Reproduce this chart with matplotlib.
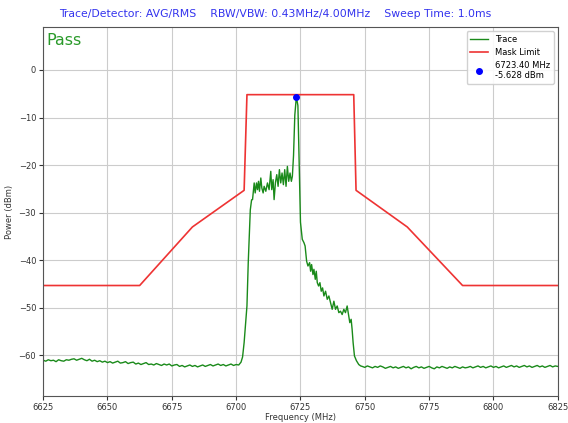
import numpy as np
import matplotlib.pyplot as plt

# ── data ─────────────────────────────────────────────────────────────────────
# noise floor below the channel (1 MHz steps)
floor_lo_freq = np.arange(6625, 6702)
floor_lo_dbm = [
    -61.0, -61.2, -60.9, -61.1, -61.0, -61.3, -60.9, -61.1, -61.2, -60.9, -61.0, -60.8,
    -60.7, -61.0, -60.8, -60.6, -60.9, -61.1, -60.8, -61.2, -61.0, -61.3, -61.1, -61.4,
    -61.2, -61.5, -61.3, -61.6, -61.4, -61.2, -61.6, -61.5, -61.3, -61.7, -61.5, -61.4,
    -61.8, -61.6, -61.9, -61.7, -61.5, -61.9, -61.8, -62.0, -61.7, -61.9, -62.1, -61.8,
    -62.0, -61.8, -62.2, -62.0, -61.9, -62.3, -62.1, -62.4, -62.2, -62.0, -62.3, -62.1,
    -62.4, -62.2, -62.0, -62.3, -62.1, -61.9, -62.2, -62.0, -61.8, -62.1, -61.9, -62.2,
    -62.0, -61.8, -62.1, -61.9, -62.0,
]

# in-band part of the trace
band_freq = [
    6701.9, 6702.5, 6703.1, 6703.7, 6704.2, 6704.7, 6705.1, 6705.5, 6706.0,
    6706.37, 6707.01, 6707.40, 6707.91, 6708.30, 6708.69, 6709.07, 6709.59, 6709.98,
    6710.49, 6710.88, 6711.53, 6712.17, 6712.81, 6713.46, 6713.84, 6714.36, 6714.75,
    6715.26, 6715.78, 6716.30, 6716.81, 6717.33, 6717.84, 6718.36, 6718.88, 6719.39,
    6719.91, 6720.43, 6720.94, 6721.46, 6721.85,
    6722.3, 6722.8, 6723.4, 6724.0, 6724.5, 6725.0, 6725.7,
    6726.35, 6726.8, 6727.39, 6727.91, 6728.56, 6728.94, 6729.33, 6729.85, 6730.23,
    6730.75, 6731.14, 6731.53, 6732.04, 6732.56, 6733.07, 6733.59, 6734.11, 6734.75,
    6735.40, 6736.04, 6736.69, 6737.33, 6737.98, 6738.62, 6739.27, 6739.91, 6740.56,
    6741.20, 6741.85, 6742.49, 6743.14, 6743.78, 6744.17, 6744.69, 6745.07, 6745.46,
    6745.98, 6746.75, 6747.65, 6748.4,
]
band_dbm = [
    -61.4, -60.3, -57.3, -53.0, -49.6, -40.5, -35.0, -29.4, -27.3,
    -27.25, -23.75, -25.85, -23.75, -25.16, -23.41, -25.5, -22.71, -24.81,
    -25.85, -24.46, -25.5, -23.75, -25.16, -21.31, -25.16, -23.06, -27.25,
    -23.75, -22.01, -24.46, -20.96, -23.75, -21.66, -24.11, -20.96, -24.46,
    -20.27, -23.41, -21.66, -23.41, -22.36,
    -18.0, -9.5, -5.628, -7.5, -20.0, -32.0, -35.6,
    -36.3, -37.0, -40.2, -41.2, -40.5, -42.3, -40.9, -43.0, -41.9,
    -44.0, -42.3, -44.7, -45.4, -44.7, -46.5, -45.8, -47.5, -46.5,
    -48.2, -47.5, -48.9, -50.3, -48.6, -50.3, -49.6, -51.0, -50.7,
    -51.4, -50.3, -51.0, -49.6, -51.7, -53.1, -52.4, -54.5, -57.3,
    -60.1, -61.1, -61.9, -62.2,
]

# noise floor above the channel (1 MHz steps)
floor_hi_freq = np.arange(6749, 6826)
floor_hi_dbm = [
    -62.3, -62.5, -62.2, -62.4, -62.6, -62.3, -62.5, -62.2, -62.4, -62.7, -62.5, -62.3,
    -62.6, -62.4, -62.7, -62.5, -62.3, -62.6, -62.4, -62.8, -62.5, -62.3, -62.6, -62.4,
    -62.7, -62.5, -62.3, -62.6, -62.8, -62.4, -62.6, -62.3, -62.5, -62.7, -62.4, -62.6,
    -62.3, -62.5, -62.7, -62.4, -62.6, -62.5, -62.3, -62.6, -62.4, -62.2, -62.5, -62.3,
    -62.6, -62.4, -62.2, -62.5, -62.3, -62.6, -62.4, -62.2, -62.5, -62.3, -62.1, -62.4,
    -62.2, -62.5, -62.3, -62.1, -62.4, -62.2, -62.5, -62.3, -62.1, -62.4, -62.2, -62.5,
    -62.3, -62.1, -62.4, -62.2, -62.3,
]

trace_freq = np.concatenate([floor_lo_freq, band_freq, floor_hi_freq])
trace_dbm = np.concatenate([floor_lo_dbm, band_dbm, floor_hi_dbm])

# spectral mask
mask_freq = [6625, 6662.5, 6683, 6703.1, 6704.2, 6745.7, 6746.6, 6766.5, 6788, 6825]
mask_dbm = [-45.3, -45.3, -33.0, -25.3, -5.2, -5.2, -25.3, -33.0, -45.3, -45.3]

peak_freq = 6723.40
peak_dbm = -5.628

# ── plot ─────────────────────────────────────────────────────────────────────
fig = plt.figure(figsize=(5.68, 4.23), dpi=100)
ax = fig.add_axes([0.076, 0.064, 0.906, 0.872])

ax.plot(trace_freq, trace_dbm, color="#1a8a1a", linewidth=1.0, label="Trace")
ax.plot(mask_freq, mask_dbm, color="#ee3333", linewidth=1.2, label="Mask Limit")
ax.plot([peak_freq], [peak_dbm], "o", color="blue", markersize=4,
        label=f"{peak_freq:.2f} MHz\n{peak_dbm:.3f} dBm", zorder=5)

ax.set_xlim(6625, 6825)
ax.set_ylim(-68.5, 9)
ax.set_xticks(np.arange(6625, 6826, 25))
ax.set_yticks(np.arange(-60, 1, 10))
ax.grid(True, color="#cccccc", linewidth=0.8)
ax.tick_params(labelsize=6, colors="#333333", length=3, pad=2)
for s in ax.spines.values():
    s.set_color("#555555")
ax.set_xlabel("Frequency (MHz)", fontsize=6, color="#333333", labelpad=1)
ax.set_ylabel("Power (dBm)", fontsize=6, color="#333333", labelpad=3)

ax.text(0.006, 0.985, "Pass", transform=ax.transAxes, fontsize=11.5,
        color="#2a9a2a", va="top", ha="left")
ax.legend(loc="upper right", fontsize=6, handlelength=2.2, framealpha=0.9)

fig.text(0.485, 0.967, "Trace/Detector: AVG/RMS    RBW/VBW: 0.43MHz/4.00MHz    Sweep Time: 1.0ms",
         ha="center", va="center", fontsize=7.8, color="#3333ee")

fig.savefig("out.png", dpi=100)
